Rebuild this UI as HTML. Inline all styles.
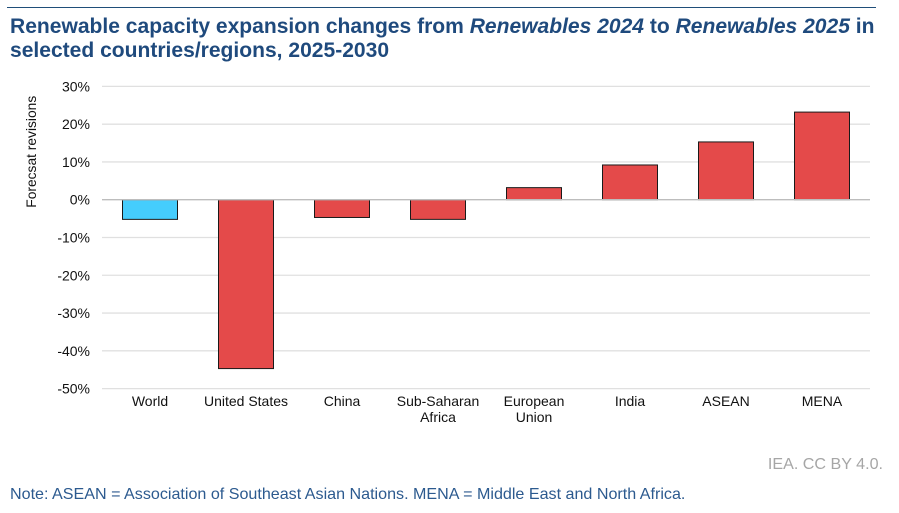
<!DOCTYPE html>
<html lang="en">
<head>
<meta charset="utf-8">
<title>Renewable capacity expansion changes</title>
<style>
html,body{margin:0;padding:0;background:#fff;}
body{width:899px;height:513px;overflow:hidden;position:relative;font-family:"Liberation Sans",Arial,sans-serif;}
#top-rule{position:absolute;left:7px;top:7px;width:869px;height:1px;background:#1f4e79;}
#title{position:absolute;left:10px;top:15px;margin:0;width:885px;font-size:21.05px;line-height:24px;font-weight:bold;color:#1f4a7d;white-space:nowrap;}
#note{position:absolute;left:10px;top:485px;font-size:16.1px;line-height:18px;color:#2c5a8f;white-space:nowrap;}
#credit{position:absolute;right:16px;top:455px;font-size:16.1px;line-height:18px;color:#a6a6a6;white-space:nowrap;}
#chart{position:absolute;left:0;top:0;}
</style>
</head>
<body>
<div id="top-rule"></div>
<h1 id="title">Renewable capacity expansion changes from <i>Renewables 2024</i> to <i>Renewables 2025</i> in<br>selected countries/regions, 2025-2030</h1>
<svg id="chart" width="899" height="513" xmlns="http://www.w3.org/2000/svg"></svg>
<div id="credit">IEA. CC BY 4.0.</div>
<div id="note">Note: ASEAN = Association of Southeast Asian Nations. MENA = Middle East and North Africa.</div>
<script>
const categories = [["World"], ["United States"], ["China"], ["Sub-Saharan", "Africa"], ["European", "Union"], ["India"], ["ASEAN"], ["MENA"]];
const revisions = [-5.2, -44.7, -4.7, -5.2, 3.2, 9.2, 15.3, 23.2];
const worldCategory = "World";
const yTicks = [30, 20, 10, 0, -10, -20, -30, -40, -50];
const yAxisTitle = "Forecsat revisions";

const svg = document.getElementById('chart');
const NS = 'http://www.w3.org/2000/svg';
const plot = {left: 102, right: 870, top: 86.4, bottom: 388.6};
const yMax = 30, yMin = -50;
const barRatio = 55 / 96;

function yScale(v) {
  return plot.top + (yMax - v) / (yMax - yMin) * (plot.bottom - plot.top);
}
function xBand() {
  return (plot.right - plot.left) / categories.length;
}
function xCenter(i) {
  return plot.left + xBand() * (i + 0.5);
}
function make(tag, attrs, text) {
  const el = document.createElementNS(NS, tag);
  for (const k in attrs) el.setAttribute(k, attrs[k]);
  if (text !== undefined) el.textContent = text;
  svg.appendChild(el);
  return el;
}

yTicks.forEach(function (t) {
  if (t === 0) return;
  const line = make('line', {x1: plot.left, x2: plot.right, y1: yScale(t), y2: yScale(t), stroke: '#e0e0e0', 'stroke-width': 1.3});
  
  
});

yTicks.forEach(function (t) {
  const label = make('text', {x: 90, y: yScale(t) + 5, 'text-anchor': 'end', 'font-size': 14, fill: '#111', 'font-family': '"Liberation Sans", Arial, sans-serif'}, t + '%');
  
  
});

const yTitle = make('text', {x: 0, y: 0, transform: 'translate(36 ' + yScale(12.7) + ') rotate(-90)', 'text-anchor': 'middle', 'font-size': 13.8, fill: '#111', 'font-family': '"Liberation Sans", Arial, sans-serif'}, yAxisTitle);



revisions.forEach(function (v, i) {
  const w = xBand() * barRatio;
  const y0 = yScale(0), y1 = yScale(v);
  const isWorld = categories[i][0] === worldCategory;
  const bar = make('rect', {
    x: xCenter(i) - w / 2,
    y: Math.min(y0, y1),
    width: w,
    height: Math.abs(y1 - y0),
    fill: isWorld ? '#45cdfd' : '#e44a4a',
    stroke: '#1a1a1a',
    'stroke-width': 1
  });
  
  
});

const zeroLine = make('line', {x1: plot.left, x2: plot.right, y1: yScale(0), y2: yScale(0), stroke: '#bdbdbd', 'stroke-width': 1.4});



categories.forEach(function (lines, i) {
  lines.forEach(function (ln, j) {
    const label = make('text', {x: xCenter(i), y: 406 + j * 16, 'text-anchor': 'middle', 'font-size': 14, fill: '#111', 'font-family': '"Liberation Sans", Arial, sans-serif'}, ln);
    
    
  });
});
</script>
</body>
</html>
